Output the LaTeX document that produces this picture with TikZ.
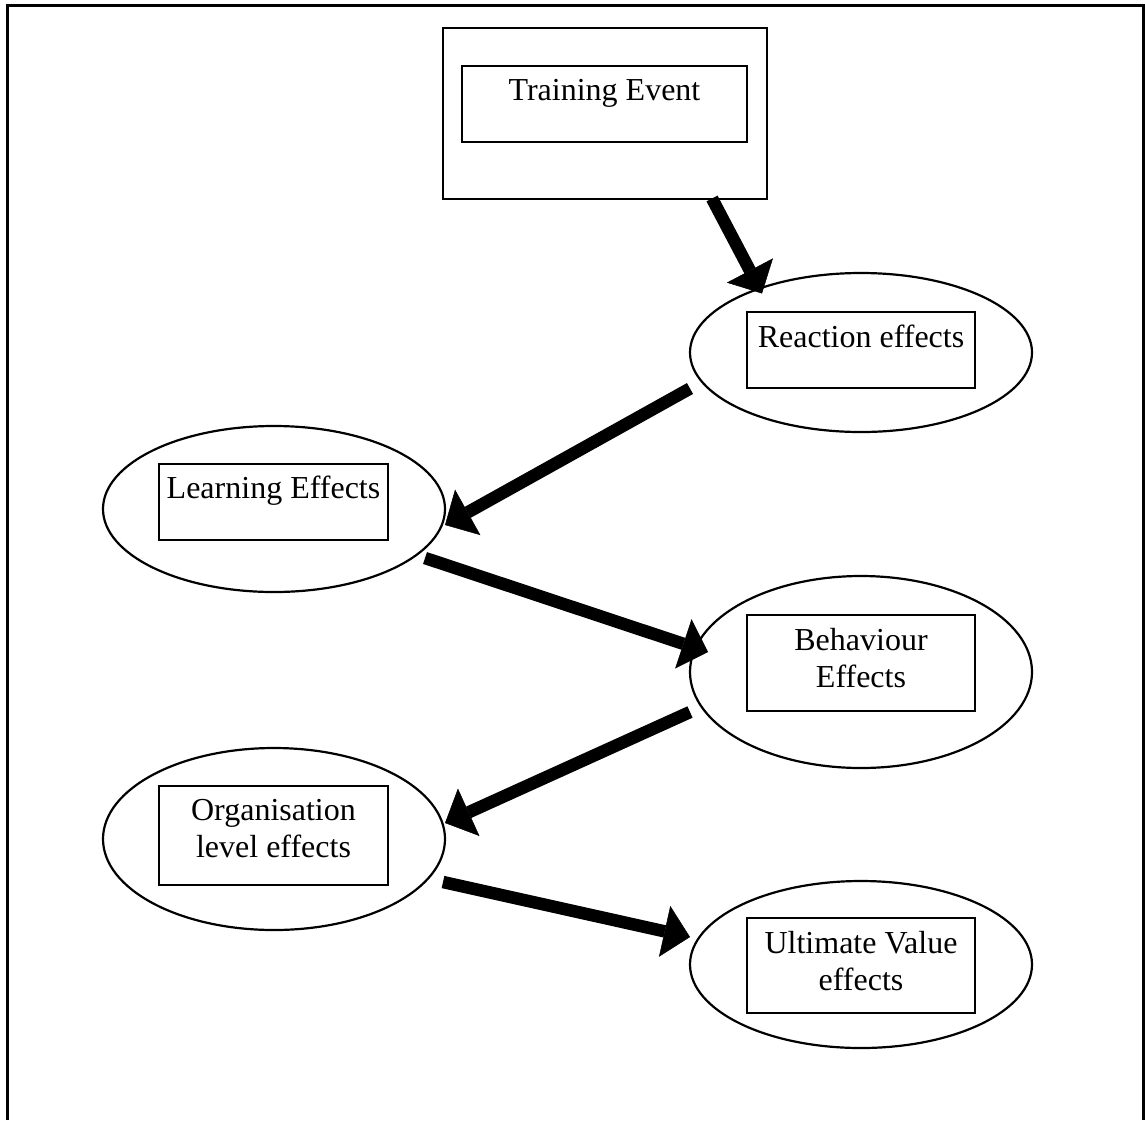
\documentclass[tikz,border=0pt]{standalone}
\usepackage{fontspec}
\setmainfont{Liberation Serif}
\usetikzlibrary{arrows.meta,shapes.geometric}
\begin{document}
\begin{tikzpicture}[x=1pt,y=-1pt,
  frame/.style={line width=3pt},
  stage/.style={ellipse, draw, line width=2.2pt, inner sep=0pt},
  labelbox/.style={rectangle, draw, line width=2.2pt, inner sep=0pt},
  caption/.style={anchor=base, font=\fontsize{32}{37}\selectfont, inner sep=0pt},
  flow/.style={line width=12.5pt, -{Triangle[length=26pt,width=52pt,line width=0.5pt]}}
]
\useasboundingbox (0,0) rectangle (1145,1120);

% page frame (open at the bottom)
\draw[frame] (7,1120) -- (7,5) -- (1143,5) -- (1143,1120);

% training event
\node[labelbox, minimum width=324pt, minimum height=171pt] (tout) at (605,113.5) {};
\node[labelbox, minimum width=285pt, minimum height=76pt] (tin) at (604.5,104) {};
\node[caption] (ttxt) at (604.5,100) {Training Event};

% reaction effects
\node[stage, minimum width=342pt, minimum height=159pt] (reac) at (861,352.5) {};
\node[labelbox, minimum width=228pt, minimum height=76pt] (reacbox) at (861,350) {};
\node[caption] (reactxt) at (861,347) {Reaction effects};

% learning effects
\node[stage, minimum width=342pt, minimum height=166pt] (lrn) at (274,509) {};
\node[labelbox, minimum width=229pt, minimum height=76pt] (lrnbox) at (273.5,502) {};
\node[caption] (lrntxt) at (273.5,498) {Learning Effects};

% behaviour effects
\node[stage, minimum width=342pt, minimum height=192pt] (beh) at (861,672) {};
\node[labelbox, minimum width=228pt, minimum height=96pt] (behbox) at (861,663) {};
\node[caption] (behtxta) at (861,650) {Behaviour};
\node[caption] (behtxtb) at (861,687) {Effects};

% organisation level effects
\node[stage, minimum width=342pt, minimum height=182pt] (org) at (274,839) {};
\node[labelbox, minimum width=229pt, minimum height=99pt] (orgbox) at (273.5,835.5) {};
\node[caption] (orgtxta) at (273.5,820) {Organisation};
\node[caption] (orgtxtb) at (273.5,857) {level effects};

% ultimate value effects
\node[stage, minimum width=342pt, minimum height=167pt] (ult) at (861,964.5) {};
\node[labelbox, minimum width=228pt, minimum height=95pt] (ultbox) at (861,965.5) {};
\node[caption] (ulttxta) at (861,953) {Ultimate Value};
\node[caption] (ulttxtb) at (861,990) {effects};

% flow of effects
\draw[flow] ([shift={(107,85)}]tout.center) -- ([shift={(-99,-59)}]reac.center);
\draw[flow] ([shift={(-171,36)}]reac.center) -- ([shift={(171,16)}]lrn.center);
\draw[flow] ([shift={(151,49)}]lrn.center) -- ([shift={(-153,-20)}]beh.center);
\draw[flow] ([shift={(-171,40)}]beh.center) -- ([shift={(171,-16)}]org.center);
\draw[flow] ([shift={(169,43)}]org.center) -- ([shift={(-171,-27.5)}]ult.center);
\end{tikzpicture}
\end{document}
